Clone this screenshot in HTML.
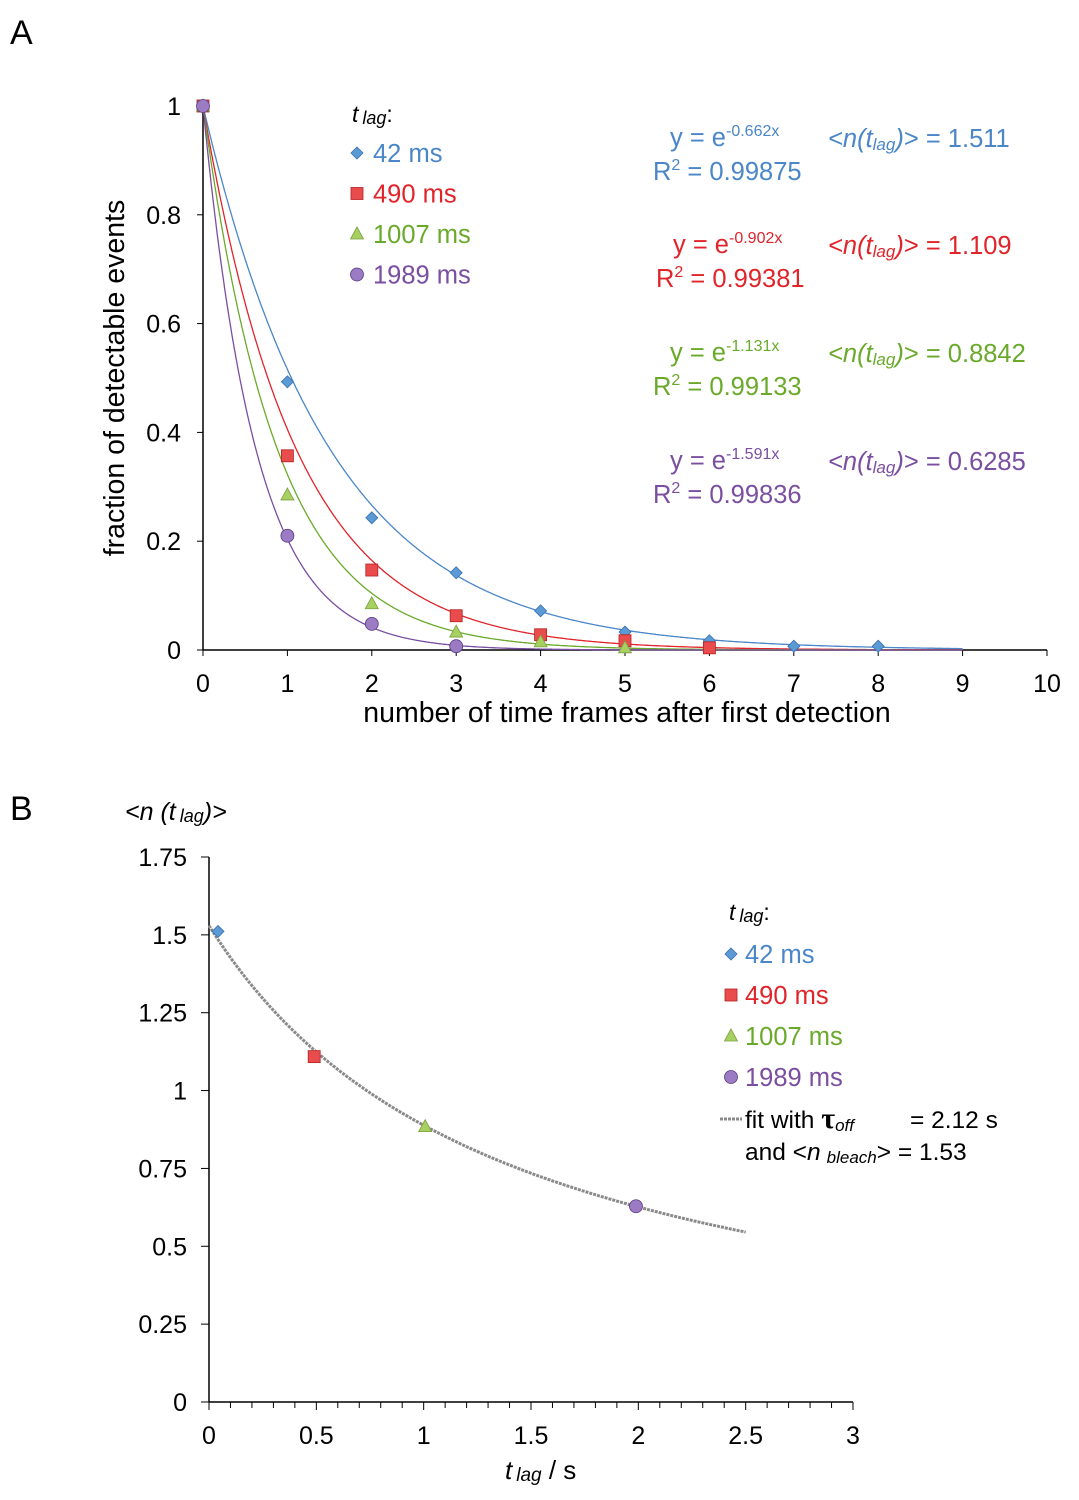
<!DOCTYPE html>
<html><head><meta charset="utf-8"><style>
html,body{margin:0;padding:0;background:#fff;}
svg{display:block;font-family:"Liberation Sans",Arial,sans-serif;}
</style></head><body>
<svg id="fig" width="1079" height="1500" viewBox="0 0 1079 1500" xmlns="http://www.w3.org/2000/svg">
<text x="10" y="44" font-size="34">A</text>
<text x="10" y="820" font-size="34">B</text>
<g id="A"></g>
<g id="B"></g>
</svg>
<script>
// ---------- Panel A data ----------
const seriesNames = ["42 ms","490 ms","1007 ms","1989 ms"];
const seriesColors = ["#4a86c8","#e0242a","#6aaa2a","#7a4ea0"];
const fillColors = ["#5b9bd5","#e84c4c","#a8d060","#9b7cc4"];
const fitRates = [0.662,0.902,1.131,1.591];
const fitR2 = ["0.99875","0.99381","0.99133","0.99836"];
const meanN = ["1.511","1.109","0.8842","0.6285"];
const blueVals = [1,0.493,0.243,0.142,0.072,0.033,0.017,0.007,0.007];
const redVals = [1,0.357,0.147,0.063,0.028,0.017,0.004];
const greenVals = [1,0.285,0.085,0.033,0.015,0.004];
const purpleVals = [1,0.21,0.048,0.007];
const xTicksA = [0,1,2,3,4,5,6,7,8,9,10];
const yTicksA = [0,0.2,0.4,0.6,0.8,1];
// ---------- Panel B data ----------
const lagTimes = [0.042,0.49,1.007,1.989];
const meanNvals = [1.511,1.109,0.8842,0.6285];
const tauOff = 2.12;
const nBleach = 1.53;
const xTicksB = [0,0.5,1,1.5,2,2.5,3];
const yTicksB = [0,0.25,0.5,0.75,1,1.25,1.5,1.75];

const NS="http://www.w3.org/2000/svg";
function mk(parent,tag,attrs,text){const e=document.createElementNS(NS,tag);for(const k in attrs)e.setAttribute(k,attrs[k]);if(text!==undefined)e.textContent=text;parent.appendChild(e);return e;}

function marker(g,kind,cx,cy,i){
  let m;
  if(kind===0){m=mk(g,"polygon",{points:`${cx},${cy-6} ${cx+6},${cy} ${cx},${cy+6} ${cx-6},${cy}`,fill:fillColors[i],stroke:"#3a70b0","stroke-width":0.8});}
  else if(kind===1){m=mk(g,"rect",{x:cx-6,y:cy-6,width:12,height:12,fill:fillColors[i],stroke:"#b82020","stroke-width":0.8});}
  else if(kind===2){m=mk(g,"polygon",{points:`${cx},${cy-7} ${cx+6.5},${cy+5} ${cx-6.5},${cy+5}`,fill:fillColors[i],stroke:"#7aa040","stroke-width":0.8});}
  else {m=mk(g,"circle",{cx:cx,cy:cy,r:6.5,fill:fillColors[i],stroke:"#5a3a80","stroke-width":0.8});}
  return m;
}
const TK=25, TT=28.5, LG=25.5;

// ---------- Panel A ----------
(function(){
  const g=document.getElementById("A");
  const x0=203,x1=1047,y0=650,y1=106;
  const X=v=>x0+(x1-x0)*v/10, Y=v=>y0-(y0-y1)*v;
  const ax=mk(g,"g",{});
  
  
  mk(ax,"line",{x1:x0,y1:y0,x2:x1,y2:y0,stroke:"#000","stroke-width":1.5});
  mk(ax,"line",{x1:x0,y1:y0,x2:x0,y2:y1,stroke:"#000","stroke-width":1.5});
  xTicksA.forEach(t=>{
    mk(ax,"line",{x1:X(t),y1:y0,x2:X(t),y2:y0+6,stroke:"#000"});
    const tl=mk(ax,"text",{x:X(t),y:y0+42,"font-size":TK,"text-anchor":"middle"},String(t));
    
    
  });
  yTicksA.forEach(t=>{
    mk(ax,"line",{x1:x0-6,y1:Y(t),x2:x0,y2:Y(t),stroke:"#000"});
    const tl=mk(ax,"text",{x:x0-22,y:Y(t)+9,"font-size":TK,"text-anchor":"end"},String(t));
    
    
  });
  const xt=mk(ax,"text",{x:627,y:722,"font-size":TT,"text-anchor":"middle"},"number of time frames after first detection");
  
  
  const yt=mk(ax,"text",{x:124,y:378,"font-size":TT,"text-anchor":"middle",transform:"rotate(-90 124 378)"},"fraction of detectable events");
  
  
  fitRates.forEach((k,i)=>{
    let d="";
    for(let s=0;s<=900;s++){const v=s/100;d+=(s?"L":"M")+X(v).toFixed(1)+","+Y(Math.exp(-k*v)).toFixed(1);}
    const p=mk(g,"path",{d:d,fill:"none",stroke:seriesColors[i],"stroke-width":1.3});
    
    
  });
  [blueVals,redVals,greenVals,purpleVals].forEach((arr,i)=>{
    arr.forEach((v,j)=>{
      const m=marker(g,i,X(j),Y(v),i);
      
      
    });
  });
  const lg=mk(g,"g",{});
  
  
  const lt=mk(lg,"text",{x:352,y:122,"font-size":23});
  mk(lt,"tspan",{"font-style":"italic"},"t");
  mk(lt,"tspan",{"font-style":"italic","font-size":18,dx:4,dy:2},"lag");
  mk(lt,"tspan",{dy:-2},":");
  seriesNames.forEach((n,i)=>{
    const y=153+i*40.5;
    marker(lg,i,357,y,i);
    const e=mk(lg,"text",{x:373,y:y+9,"font-size":LG,fill:seriesColors[i]},n);
    
    
  });
  const eqY=[146,253,361,469];
  const eqX=[670,673,670,670];
  fitRates.forEach((k,i)=>{
    const c=seriesColors[i];
    const eg=mk(g,"g",{fill:c});
    
    
    const t1=mk(eg,"text",{x:eqX[i],y:eqY[i],"font-size":LG},"y = e");
    mk(t1,"tspan",{"font-size":16,dy:-10},"-"+k.toFixed(3)+"x");
    const t2=mk(eg,"text",{x:eqX[i]-17,y:eqY[i]+34,"font-size":LG},"R");
    mk(t2,"tspan",{"font-size":16,dy:-10},"2");
    mk(t2,"tspan",{dy:10}," = "+fitR2[i]);
    const t3=mk(eg,"text",{x:828,y:eqY[i]+1,"font-size":LG});
    mk(t3,"tspan",{"font-style":"italic"},"<n(t");
    mk(t3,"tspan",{"font-style":"italic","font-size":17,dy:3},"lag");
    mk(t3,"tspan",{"font-style":"italic",dy:-3},")");
    mk(t3,"tspan",{},"> = "+meanN[i]);
  });
})();

// ---------- Panel B ----------
(function(){
  const g=document.getElementById("B");
  const x0=209,x1=853,y0=1402,y1=857;
  const X=v=>x0+(x1-x0)*v/3, Y=v=>y0-(y0-y1)*v/1.75;
  const ax=mk(g,"g",{});
  
  
  mk(ax,"line",{x1:x0,y1:y0,x2:x1,y2:y0,stroke:"#000","stroke-width":1.5});
  mk(ax,"line",{x1:x0,y1:y0,x2:x0,y2:y1,stroke:"#000","stroke-width":1.5});
  for(let m=0;m<=30;m++){const xx=X(m/10);mk(ax,"line",{x1:xx,y1:y0,x2:xx,y2:y0+(m%5===0?8:6),stroke:"#000"});}
  xTicksB.forEach(t=>{
    const tl=mk(ax,"text",{x:X(t),y:y0+42,"font-size":TK,"text-anchor":"middle"},String(t));
    
    
  });
  yTicksB.forEach(t=>{
    mk(ax,"line",{x1:x0-8,y1:Y(t),x2:x0,y2:Y(t),stroke:"#000"});
    const tl=mk(ax,"text",{x:x0-22,y:Y(t)+9,"font-size":TK,"text-anchor":"end"},String(t));
    
    
  });
  const xt=mk(ax,"text",{x:505,y:1479,"font-size":26});
  
  
  mk(xt,"tspan",{"font-style":"italic"},"t");
  mk(xt,"tspan",{"font-style":"italic","font-size":19,dx:4,dy:2},"lag");
  mk(xt,"tspan",{dy:-2},"  / s");
  const yt=mk(ax,"text",{x:125,y:820,"font-size":25,"font-style":"italic"});
  
  
  mk(yt,"tspan",{},"<n (t");
  mk(yt,"tspan",{"font-size":18,dx:4,dy:2},"lag");
  mk(yt,"tspan",{dy:-2},")>");
  let d="";
  for(let s=0;s<=250;s++){const t=s/100;const v=1/(1/nBleach+t/tauOff);d+=(s?"L":"M")+X(t).toFixed(1)+","+Y(v).toFixed(1);}
  const p=mk(g,"path",{d:d,fill:"none",stroke:"#8a8a8a","stroke-width":3,"stroke-dasharray":"3 1"});
  
  
  lagTimes.forEach((t,i)=>{
    const m=marker(g,i,X(t),Y(meanNvals[i]),i);
    
    
  });
  const lg=mk(g,"g",{});
  
  
  const lt=mk(lg,"text",{x:729,y:920,"font-size":23});
  mk(lt,"tspan",{"font-style":"italic"},"t");
  mk(lt,"tspan",{"font-style":"italic","font-size":18,dx:4,dy:2},"lag");
  mk(lt,"tspan",{dy:-2},":");
  seriesNames.forEach((n,i)=>{
    const y=954+i*41;
    marker(lg,i,731,y,i);
    const e=mk(lg,"text",{x:745,y:y+9,"font-size":LG,fill:seriesColors[i]},n);
    
    
  });
  mk(lg,"line",{x1:720,y1:1119,x2:742,y2:1119,stroke:"#8a8a8a","stroke-width":3,"stroke-dasharray":"3 1"});
  const f1=mk(lg,"text",{x:745,y:1128,"font-size":24.5},"fit with ");
  
  
  mk(f1,"tspan",{"font-size":30,"font-weight":"bold","font-family":"Liberation Serif,serif"},"τ");
  mk(f1,"tspan",{"font-size":17,"font-style":"italic",dy:3},"off");
  mk(f1,"tspan",{x:910,dy:-3},"= 2.12 s");
  const f2=mk(lg,"text",{x:745,y:1160,"font-size":24.5},"and <");
  mk(f2,"tspan",{"font-style":"italic"},"n");
  mk(f2,"tspan",{"font-style":"italic","font-size":17,dx:6,dy:3},"bleach");
  mk(f2,"tspan",{dy:-3},"> = 1.53");
})();
</script>
</body></html>
